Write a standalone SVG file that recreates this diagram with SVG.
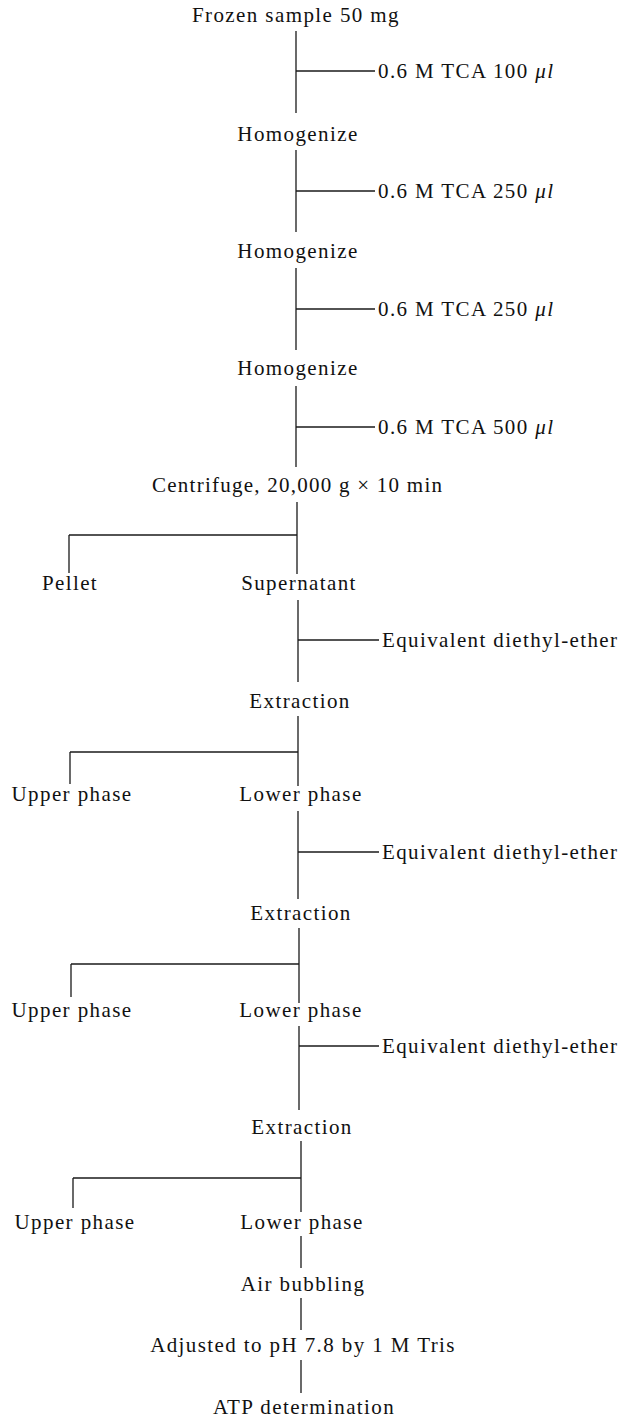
<svg xmlns="http://www.w3.org/2000/svg" width="622" height="1421" viewBox="0 0 622 1421">
<style>
text{font-family:"Liberation Serif","Times New Roman",serif;font-size:21px;fill:#111;letter-spacing:1.4px}
.c{text-anchor:middle}
.tl{letter-spacing:0}
.it{font-style:italic}
#connectors line{stroke:#1a1a1a;stroke-width:1.3;fill:none}
</style>
<rect width="622" height="1421" fill="#fff"/>
<g id="connectors">
<line x1="296" y1="31" x2="296" y2="113"/>
<line x1="296" y1="71" x2="375" y2="71"/>
<line x1="296" y1="150" x2="296" y2="232"/>
<line x1="296" y1="191" x2="375" y2="191"/>
<line x1="296" y1="268" x2="296" y2="350"/>
<line x1="296" y1="309" x2="375" y2="309"/>
<line x1="296" y1="386" x2="296" y2="467"/>
<line x1="296" y1="427" x2="375" y2="427"/>
<line x1="297" y1="502" x2="297" y2="574"/>
<line x1="297" y1="535" x2="69" y2="535"/>
<line x1="69" y1="535" x2="69" y2="573"/>
<line x1="298" y1="600" x2="298" y2="682"/>
<line x1="298" y1="640" x2="379" y2="640"/>
<line x1="298" y1="716" x2="298" y2="786"/>
<line x1="298" y1="752" x2="70" y2="752"/>
<line x1="70" y1="752" x2="70" y2="784"/>
<line x1="298" y1="811" x2="298" y2="899"/>
<line x1="298" y1="852" x2="379" y2="852"/>
<line x1="299" y1="928" x2="299" y2="1003"/>
<line x1="299" y1="964" x2="71" y2="964"/>
<line x1="71" y1="964" x2="71" y2="997"/>
<line x1="299" y1="1026" x2="299" y2="1110"/>
<line x1="299" y1="1046" x2="379" y2="1046"/>
<line x1="301" y1="1141" x2="301" y2="1212"/>
<line x1="301" y1="1178" x2="73" y2="1178"/>
<line x1="73" y1="1178" x2="73" y2="1208"/>
<line x1="301" y1="1236" x2="301" y2="1268"/>
<line x1="301" y1="1298" x2="301" y2="1330"/>
<line x1="301" y1="1360" x2="301" y2="1393"/>
</g>
<g id="n-frozen"><text class="c" x="296" y="22">Frozen sample 50 mg</text></g>
<g id="n-tca1"><text class="tl" x="378" y="78" textLength="175" lengthAdjust="spacing">0.6 M TCA 100 <tspan class="it">μl</tspan></text></g>
<g id="n-homog1"><text class="c" x="298" y="141">Homogenize</text></g>
<g id="n-tca2"><text class="tl" x="378" y="198" textLength="175" lengthAdjust="spacing">0.6 M TCA 250 <tspan class="it">μl</tspan></text></g>
<g id="n-homog2"><text class="c" x="298" y="258">Homogenize</text></g>
<g id="n-tca3"><text class="tl" x="378" y="316" textLength="175" lengthAdjust="spacing">0.6 M TCA 250 <tspan class="it">μl</tspan></text></g>
<g id="n-homog3"><text class="c" x="298" y="375">Homogenize</text></g>
<g id="n-tca4"><text class="tl" x="378" y="434" textLength="175" lengthAdjust="spacing">0.6 M TCA 500 <tspan class="it">μl</tspan></text></g>
<g id="n-centrifuge"><text class="tl" x="152" y="492" textLength="290" lengthAdjust="spacing">Centrifuge, 20,000 g × 10 min</text></g>
<g id="n-pellet"><text class="c" x="70" y="590">Pellet</text></g>
<g id="n-supernatant"><text class="c" x="299" y="590">Supernatant</text></g>
<g id="n-ether1"><text class="tl" x="382" y="647" textLength="235" lengthAdjust="spacing">Equivalent diethyl-ether</text></g>
<g id="n-extraction1"><text class="c" x="300" y="708">Extraction</text></g>
<g id="n-upper1"><text class="c" x="72" y="801">Upper phase</text></g>
<g id="n-lower1"><text class="c" x="301" y="801">Lower phase</text></g>
<g id="n-ether2"><text class="tl" x="382" y="859" textLength="235" lengthAdjust="spacing">Equivalent diethyl-ether</text></g>
<g id="n-extraction2"><text class="c" x="301" y="920">Extraction</text></g>
<g id="n-upper2"><text class="c" x="72" y="1017">Upper phase</text></g>
<g id="n-lower2"><text class="c" x="301" y="1017">Lower phase</text></g>
<g id="n-ether3"><text class="tl" x="382" y="1053" textLength="235" lengthAdjust="spacing">Equivalent diethyl-ether</text></g>
<g id="n-extraction3"><text class="c" x="302" y="1134">Extraction</text></g>
<g id="n-upper3"><text class="c" x="75" y="1229">Upper phase</text></g>
<g id="n-lower3"><text class="c" x="302" y="1229">Lower phase</text></g>
<g id="n-air"><text class="c" x="303" y="1291">Air bubbling</text></g>
<g id="n-adjusted"><text class="c" x="303" y="1352">Adjusted to pH 7.8 by 1 M Tris</text></g>
<g id="n-atp"><text class="c" x="304" y="1414">ATP determination</text></g>
</svg>
